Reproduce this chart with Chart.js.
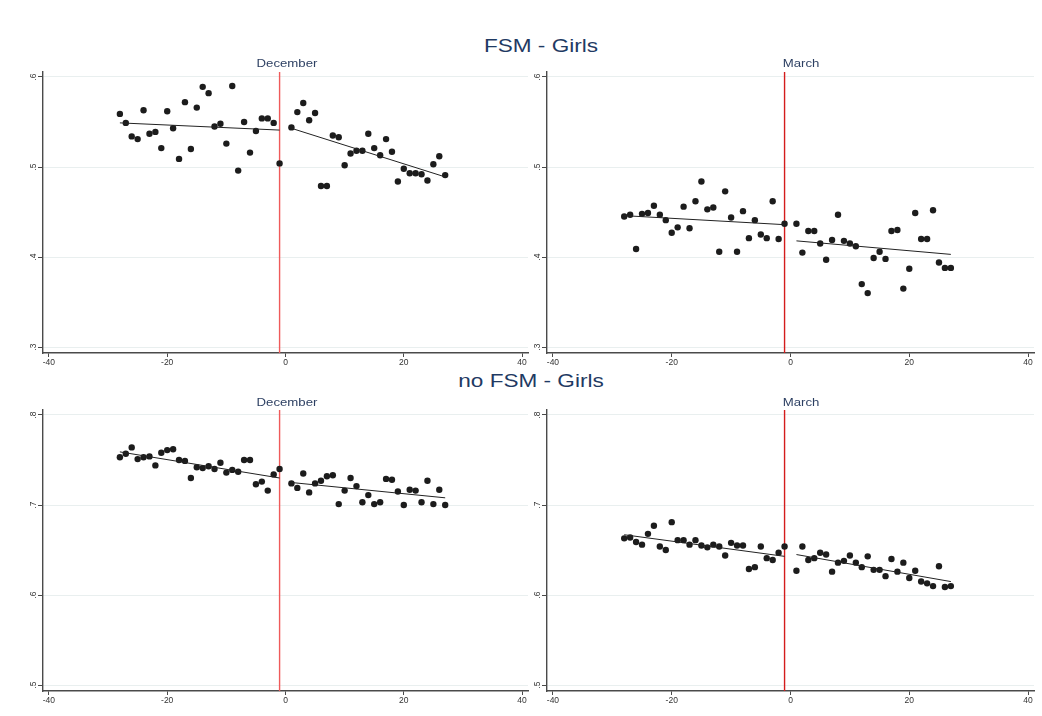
<!DOCTYPE html>
<html>
<head>
<meta charset="utf-8">
<script src="https://cdn.jsdelivr.net/npm/chart.js@4.4.1/dist/chart.umd.min.js"></script>
<style>
  html, body { margin: 0; padding: 0; background: #ffffff; }
  #wrap { position: relative; width: 1042px; height: 716px; overflow: hidden; font-family: "Liberation Sans", Arial, sans-serif; }
  canvas { position: absolute; z-index: 1; }
  .title { position: absolute; z-index: 2; color: #1f3a63; font-size: 18.5px; transform: translate(-50%, -50%) scaleX(1.22); white-space: nowrap; }
  .sub { position: absolute; z-index: 2; color: #2c3f62; font-size: 11px; transform: translate(-50%, -50%) scaleX(1.2); white-space: nowrap; }
</style>
</head>
<body>
<div id="wrap">
  <div class="title" style="left:541px; top:46px;">FSM - Girls</div>
  <div class="sub" style="left:287px; top:63px;">December</div>
  <div class="sub" style="left:801px; top:63px;">March</div>
  <div class="title" style="left:531px; top:381px;">no FSM - Girls</div>
  <div class="sub" style="left:287px; top:402px;">December</div>
  <div class="sub" style="left:801px; top:402px;">March</div>

  <canvas id="fsmDec" width="540" height="308" style="left:0px; top:62px;"></canvas>
  <canvas id="fsmMar" width="542" height="308" style="left:500px; top:62px;"></canvas>
  <canvas id="nofsmDec" width="540" height="316" style="left:0px; top:400px;"></canvas>
  <canvas id="nofsmMar" width="542" height="316" style="left:500px; top:400px;"></canvas>
</div>

<script>
// Days relative to the cutoff (day -1 marks the break)
const daysPre = [-28, -27, -26, -25, -24, -23, -22, -21, -20, -19, -18, -17, -16, -15,
                 -14, -13, -12, -11, -10, -9, -8, -7, -6, -5, -4, -3, -2, -1];
const daysPost = [1, 2, 3, 4, 5, 6, 7, 8, 9, 10, 11, 12, 13, 14,
                  15, 16, 17, 18, 19, 20, 21, 22, 23, 24, 25, 26, 27];
const cutoffDay = -1;

const xTickValues = [-40, -20, 0, 20, 40];
const yTicksFsm = [0.3, 0.4, 0.5, 0.6];
const yTicksNoFsm = [0.5, 0.6, 0.7, 0.8];

// FSM - Girls, December
const fsmDecPre = [0.559, 0.549, 0.534, 0.531, 0.563, 0.537, 0.539, 0.521, 0.562, 0.543, 0.509, 0.572, 0.520, 0.566,
                   0.589, 0.582, 0.545, 0.548, 0.526, 0.590, 0.496, 0.550, 0.516, 0.540, 0.554, 0.554, 0.549, 0.504];
const fsmDecPost = [0.544, 0.561, 0.571, 0.552, 0.560, 0.479, 0.479, 0.535, 0.533, 0.502, 0.515, 0.518, 0.518, 0.537,
                    0.521, 0.513, 0.531, 0.517, 0.484, 0.498, 0.493, 0.493, 0.492, 0.485, 0.503, 0.512, 0.491];
const fsmDecFitPre = [0.549, 0.541];
const fsmDecFitPost = [0.543, 0.489];

// FSM - Girls, March
const fsmMarPre = [0.445, 0.447, 0.409, 0.448, 0.449, 0.457, 0.447, 0.441, 0.427, 0.433, 0.456, 0.432, 0.462, 0.484,
                   0.453, 0.455, 0.406, 0.473, 0.444, 0.406, 0.451, 0.421, 0.441, 0.425, 0.421, 0.462, 0.420, 0.437];
const fsmMarPost = [0.437, 0.405, 0.429, 0.429, 0.415, 0.397, 0.419, 0.447, 0.418, 0.415, 0.412, 0.370, 0.360, 0.399,
                    0.406, 0.398, 0.429, 0.430, 0.365, 0.387, 0.449, 0.420, 0.420, 0.452, 0.394, 0.388, 0.388];
const fsmMarFitPre = [0.446, 0.436];
const fsmMarFitPost = [0.418, 0.403];

// no FSM - Girls, December
const nofsmDecPre = [0.753, 0.757, 0.764, 0.751, 0.753, 0.754, 0.744, 0.758, 0.761, 0.762, 0.750, 0.749, 0.730, 0.742,
                     0.741, 0.743, 0.740, 0.747, 0.736, 0.739, 0.737, 0.750, 0.750, 0.723, 0.726, 0.716, 0.734, 0.740];
const nofsmDecPost = [0.724, 0.719, 0.735, 0.714, 0.724, 0.727, 0.732, 0.733, 0.701, 0.716, 0.730, 0.721, 0.703, 0.711,
                      0.701, 0.703, 0.729, 0.728, 0.715, 0.700, 0.717, 0.716, 0.703, 0.727, 0.701, 0.717, 0.700];
const nofsmDecFitPre = [0.759, 0.730];
const nofsmDecFitPost = [0.725, 0.708];

// no FSM - Girls, March
const nofsmMarPre = [0.663, 0.664, 0.659, 0.656, 0.668, 0.677, 0.654, 0.650, 0.681, 0.661, 0.661, 0.656, 0.661, 0.655,
                     0.653, 0.656, 0.654, 0.644, 0.658, 0.655, 0.655, 0.629, 0.631, 0.654, 0.641, 0.639, 0.647, 0.654];
const nofsmMarPost = [0.627, 0.654, 0.639, 0.641, 0.647, 0.645, 0.626, 0.636, 0.638, 0.644, 0.636, 0.631, 0.643, 0.628,
                      0.628, 0.621, 0.640, 0.626, 0.636, 0.619, 0.627, 0.615, 0.613, 0.610, 0.632, 0.609, 0.610];
const nofsmMarFitPre = [0.667, 0.643];
const nofsmMarFitPost = [0.645, 0.615];

const toPoints = (xs, ys) => xs.map((x, i) => ({ x: x, y: ys[i] }));
const fitPoints = (xs, ends) => [{ x: xs[0], y: ends[0] }, { x: xs[xs.length - 1], y: ends[1] }];
const fmtY = v => v.toFixed(1).replace(/^0/, '');

// Cutoff line and vertical y labels
const panelDecor = {
  id: 'panelDecor',
  beforeDatasetsDraw(chart, args, opts) {
    const { ctx, chartArea } = chart;
    const x = chart.scales.x.getPixelForValue(opts.cutoff);
    ctx.save();
    ctx.strokeStyle = opts.cutoffColor;
    ctx.lineWidth = 1.4;
    ctx.beginPath();
    ctx.moveTo(x, chartArea.top);
    ctx.lineTo(x, chartArea.bottom);
    ctx.stroke();
    ctx.restore();
  },
  afterDraw(chart) {
    const { ctx, chartArea } = chart;
    const ys = chart.scales.y;
    ctx.save();
    ctx.fillStyle = '#333333';
    ctx.font = '8.5px "Liberation Sans", Arial, sans-serif';
    ctx.textAlign = 'center';
    ctx.textBaseline = 'middle';
    ys.ticks.forEach(t => {
      const py = ys.getPixelForValue(t.value);
      ctx.save();
      ctx.translate(chartArea.left - 9.5, py);
      ctx.rotate(-Math.PI / 2);
      ctx.fillText(fmtY(t.value), 0, 0);
      ctx.restore();
    });
    ctx.restore();
  }
};

function makePanel(id, cfg) {
  const axisColor = '#4a4a4a';
  new Chart(document.getElementById(id), {
    type: 'scatter',
    data: {
      datasets: [
        { type: 'line', data: fitPoints(daysPre, cfg.fitPre), borderColor: '#222222', borderWidth: 1,
          pointRadius: 0, fill: false, order: 1 },
        { type: 'line', data: fitPoints(daysPost, cfg.fitPost), borderColor: '#222222', borderWidth: 1,
          pointRadius: 0, fill: false, order: 1 },
        { data: toPoints(daysPre, cfg.pre), backgroundColor: '#1c1c1c', borderWidth: 0, pointRadius: 3.2, order: 2 },
        { data: toPoints(daysPost, cfg.post), backgroundColor: '#1c1c1c', borderWidth: 0, pointRadius: 3.2, order: 2 }
      ]
    },
    options: {
      responsive: false,
      animation: false,
      devicePixelRatio: 1,
      layout: { padding: { left: 0, right: cfg.padRight, top: 10, bottom: 0 } },
      plugins: {
        legend: { display: false },
        tooltip: { enabled: false },
        panelDecor: { cutoff: cutoffDay, cutoffColor: cfg.cutoffColor }
      },
      scales: {
        x: {
          type: 'linear', min: -41, max: 41,
          afterBuildTicks: s => { s.ticks = xTickValues.map(v => ({ value: v })); },
          afterFit: s => { s.height = cfg.xAxisHeight; },
          ticks: { color: '#333333', font: { family: '"Liberation Sans", Arial, sans-serif', size: 8.5 },
                   padding: 1, maxRotation: 0, minRotation: 0, callback: v => String(v) },
          grid: { drawOnChartArea: false, drawTicks: true, tickLength: 4, tickColor: axisColor, tickWidth: 1 },
          border: { display: true, color: axisColor, width: 1.4 }
        },
        y: {
          type: 'linear', min: cfg.yMin, max: cfg.yMax,
          afterBuildTicks: s => { s.ticks = cfg.yTicks.map(v => ({ value: v })); },
          afterFit: s => { s.width = cfg.yAxisWidth; },
          ticks: { display: false },
          grid: { drawOnChartArea: true, color: '#e9efef', lineWidth: 1, drawTicks: true, tickLength: 5,
                  tickColor: axisColor, tickWidth: 1 },
          border: { display: true, color: axisColor, width: 1.4 }
        }
      }
    },
    plugins: [panelDecor]
  });
}

makePanel('fsmDec', { pre: fsmDecPre, post: fsmDecPost, fitPre: fsmDecFitPre, fitPost: fsmDecFitPost,
  yMin: 0.2935, yMax: 0.6055, yTicks: yTicksFsm, cutoffColor: '#ef5a5a',
  yAxisWidth: 43, padRight: 12, xAxisHeight: 17 });
makePanel('fsmMar', { pre: fsmMarPre, post: fsmMarPost, fitPre: fsmMarFitPre, fitPost: fsmMarFitPost,
  yMin: 0.2935, yMax: 0.6055, yTicks: yTicksFsm, cutoffColor: '#d41c1c',
  yAxisWidth: 47, padRight: 8, xAxisHeight: 17 });
makePanel('nofsmDec', { pre: nofsmDecPre, post: nofsmDecPost, fitPre: nofsmDecFitPre, fitPost: nofsmDecFitPost,
  yMin: 0.4935, yMax: 0.8055, yTicks: yTicksNoFsm, cutoffColor: '#ef5a5a',
  yAxisWidth: 43, padRight: 12, xAxisHeight: 25 });
makePanel('nofsmMar', { pre: nofsmMarPre, post: nofsmMarPost, fitPre: nofsmMarFitPre, fitPost: nofsmMarFitPost,
  yMin: 0.4935, yMax: 0.8055, yTicks: yTicksNoFsm, cutoffColor: '#d41c1c',
  yAxisWidth: 47, padRight: 8, xAxisHeight: 25 });
</script>
</body>
</html>
